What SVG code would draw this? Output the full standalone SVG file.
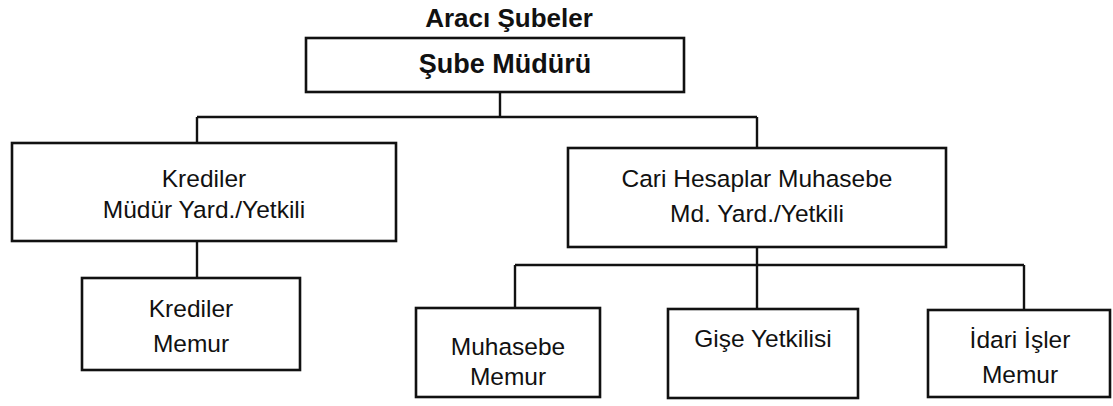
<svg xmlns="http://www.w3.org/2000/svg" width="1113" height="406" viewBox="0 0 1113 406">
<style>
.box{fill:#fff;stroke:#111;stroke-width:2.6}
.ln{fill:none;stroke:#111;stroke-width:2.4}
.t{font-family:"Liberation Sans",Arial,sans-serif;font-size:24.5px;fill:#111;text-anchor:middle}
.b{font-family:"Liberation Sans",Arial,sans-serif;font-weight:bold;fill:#111;text-anchor:middle}
</style>
<rect width="1113" height="406" fill="#fff"/>
<text class="b" x="509" y="27" font-size="26">Aracı Şubeler</text>
<g id="connectors">
<path class="ln" d="M500 92V117M197 117H757M197 117V143M757 117V148"/>
<path class="ln" d="M197 241V278"/>
<path class="ln" d="M757 247V265M515 265H1024M515 265V308M757 265V309M1024 265V310"/>
</g>
<g id="sube-muduru">
<rect class="box" x="306" y="38" width="378" height="54"/>
<text class="b" x="505" y="73" font-size="27">Şube Müdürü</text>
</g>
<g id="krediler-mudur">
<rect class="box" x="12" y="143" width="384" height="98"/>
<text class="t" x="204" y="187">Krediler</text>
<text class="t" x="204" y="218">Müdür Yard./Yetkili</text>
</g>
<g id="cari-hesaplar">
<rect class="box" x="568" y="148" width="378" height="99"/>
<text class="t" x="757" y="187">Cari Hesaplar Muhasebe</text>
<text class="t" x="757" y="222">Md. Yard./Yetkili</text>
</g>
<g id="krediler-memur">
<rect class="box" x="82" y="278" width="218" height="92"/>
<text class="t" x="191" y="317">Krediler</text>
<text class="t" x="191" y="352">Memur</text>
</g>
<g id="muhasebe-memur">
<rect class="box" x="416" y="308" width="184" height="89"/>
<text class="t" x="508" y="355">Muhasebe</text>
<text class="t" x="508" y="385">Memur</text>
</g>
<g id="gise-yetkilisi">
<rect class="box" x="668" y="309" width="190" height="89"/>
<text class="t" x="763" y="347">Gişe Yetkilisi</text>
</g>
<g id="idari-isler">
<rect class="box" x="928" y="310" width="182" height="87"/>
<text class="t" x="1020" y="348">İdari İşler</text>
<text class="t" x="1020" y="383">Memur</text>
</g>
</svg>
